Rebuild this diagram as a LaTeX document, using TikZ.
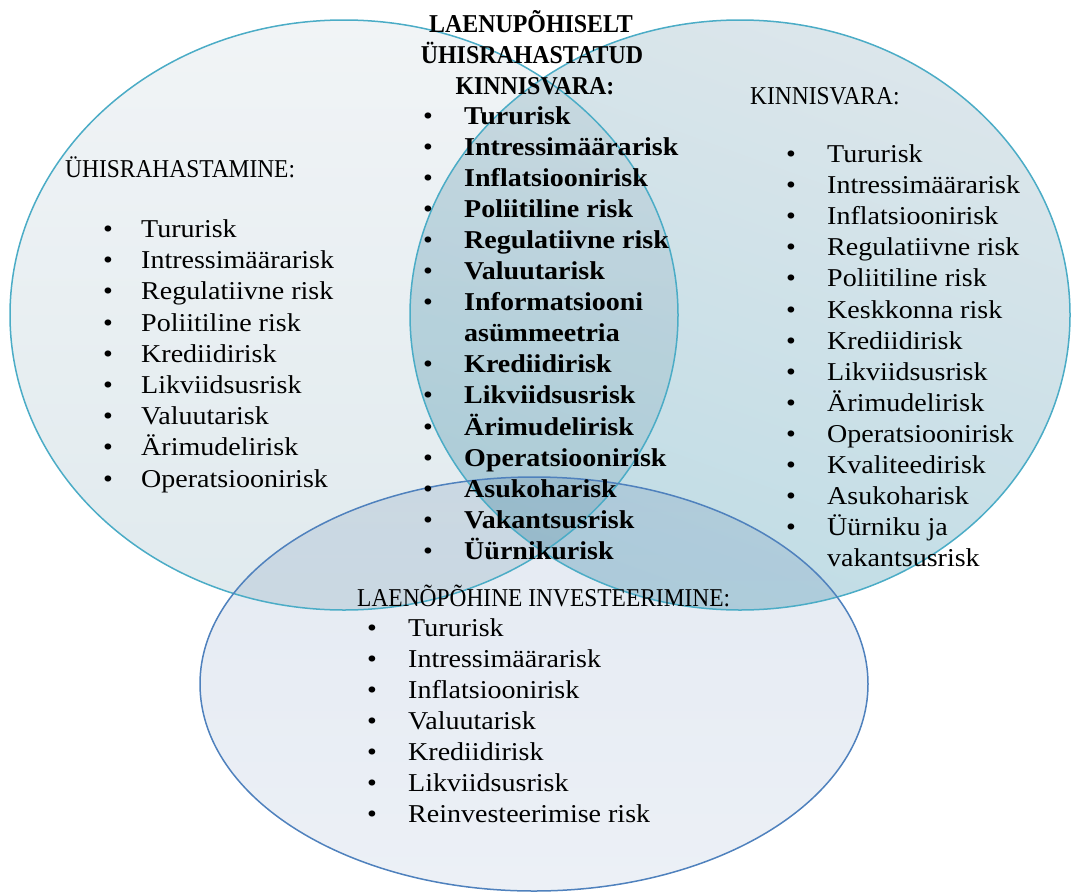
\documentclass[tikz,border=0pt]{standalone}
\usepackage{fontspec}
\setmainfont{Liberation Serif}[FakeStretch=1.09]
\newfontfamily\capsfont{Liberation Serif}[FakeStretch=0.912]
\newfontfamily\capsboldfont{Liberation Serif}[FakeStretch=0.93]
\definecolor{aqua}{HTML}{4BACC6}
\definecolor{blueline}{HTML}{4F81BD}
\definecolor{lTop}{HTML}{F1F4F6}
\definecolor{lBot}{HTML}{E0EAEE}
\definecolor{rTop}{HTML}{DCE6EB}
\definecolor{rBot}{HTML}{BFDCE5}
\definecolor{bTop}{HTML}{E4EAF2}
\definecolor{bBot}{HTML}{ECF0F6}
\tikzset{
  item/.style={anchor=base west, inner sep=0pt, font=\fontsize{25.7}{31}\selectfont},
  bolditem/.style={item, font=\fontsize{25.7}{31}\selectfont\bfseries},
  heading/.style={anchor=base west, inner sep=0pt, font=\fontsize{25.7}{31}\selectfont\capsfont},
  titleline/.style={anchor=base, inner sep=0pt, font=\fontsize{25.7}{31}\selectfont\capsboldfont\bfseries},
  bul/.style={anchor=base west, inner sep=0pt, font=\fontsize{25.7}{31}\selectfont},
  ring/.style={line width=1.5pt, draw=aqua},
}
\begin{document}
\begin{tikzpicture}[x=1pt,y=-1pt]
\useasboundingbox (0,0) rectangle (1073,894);
% fills
\begin{scope}[blend mode=multiply]
  \shade[top color=lTop, bottom color=lBot] (344,315) ellipse [x radius=334, y radius=295];
  \shade[top color=rTop, bottom color=rBot, shading angle=-20] (740,315) ellipse [x radius=330, y radius=295];
  \shade[top color=bTop, bottom color=bBot] (534,684) ellipse [x radius=334, y radius=207];
\end{scope}
% outlines
\draw[ring] (344,315) ellipse [x radius=334, y radius=295];
\draw[ring] (740,315) ellipse [x radius=330, y radius=295];
\draw[line width=1.5pt, draw=blueline] (534,684) ellipse [x radius=334, y radius=207];

% Left: ÜHISRAHASTAMINE
\node[heading] (lhead) at (65,177.5) {ÜHISRAHASTAMINE:};
\foreach \t [count=\i] in {Tururisk,Intressimäärarisk,Regulatiivne risk,Poliitiline risk,Krediidirisk,Likviidsusrisk,Valuutarisk,Ärimudelirisk,Operatsioonirisk}{
  \node[bul] (lb\i) at (103,{237.5+(\i-1)*31.2}) {•};
  \node[item] (lt\i) at (141,{237.5+(\i-1)*31.2}) {\t};
}

% Centre: title
\node[titleline] (c1) at (531,32) {LAENUPÕHISELT};
\node[titleline] (c2) at (532,63) {ÜHISRAHASTATUD};
\node[titleline] (c3) at (535,94) {KINNISVARA:};
\foreach \t/\b [count=\i] in {Tururisk/1,Intressimäärarisk/1,Inflatsioonirisk/1,Poliitiline risk/1,Regulatiivne risk/1,Valuutarisk/1,Informatsiooni/1,asümmeetria/0,Krediidirisk/1,Likviidsusrisk/1,Ärimudelirisk/1,Operatsioonirisk/1,Asukoharisk/1,Vakantsusrisk/1,Üürnikurisk/1}{
  \ifnum\b=1 \node[bul] (cb\i) at (423,{124.5+(\i-1)*31.05}) {•};\fi
  \node[bolditem] (ct\i) at (464,{124.5+(\i-1)*31.05}) {\t};
}

% Right: KINNISVARA
\node[heading] (rhead) at (750,104) {KINNISVARA:};
\foreach \t/\b [count=\i] in {Tururisk/1,Intressimäärarisk/1,Inflatsioonirisk/1,Regulatiivne risk/1,Poliitiline risk/1,Keskkonna risk/1,Krediidirisk/1,Likviidsusrisk/1,Ärimudelirisk/1,Operatsioonirisk/1,Kvaliteedirisk/1,Asukoharisk/1,Üürniku ja/1,vakantsusrisk/0}{
  \ifnum\b=1 \node[bul] (rb\i) at (786,{162.5+(\i-1)*31.1}) {•};\fi
  \node[item] (rt\i) at (827,{162.5+(\i-1)*31.1}) {\t};
}

% Bottom: LAENÕPÕHINE INVESTEERIMINE
\node[heading] (bhead) at (357,606) {LAENÕPÕHINE INVESTEERIMINE:};
\foreach \t [count=\i] in {Tururisk,Intressimäärarisk,Inflatsioonirisk,Valuutarisk,Krediidirisk,Likviidsusrisk,Reinvesteerimise risk}{
  \node[bul] (bb\i) at (367,{636.5+(\i-1)*31}) {•};
  \node[item] (bt\i) at (408,{636.5+(\i-1)*31}) {\t};
}
\end{tikzpicture}
\end{document}
